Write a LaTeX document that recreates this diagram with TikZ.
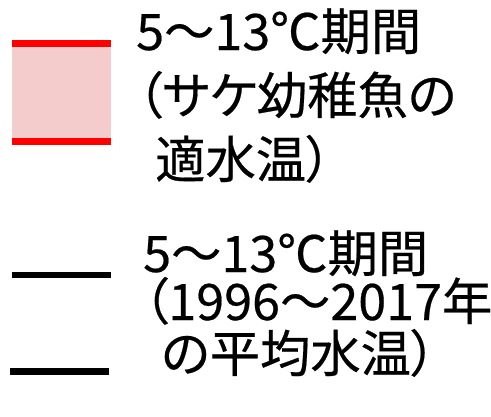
\documentclass[tikz,border=0pt]{standalone}
\usepackage{fontspec}
\setmainfont[RawFeature=+palt,FakeBold=0.4]{Noto Sans CJK JP}
\definecolor{pinkfill}{HTML}{F4CCCC}
\definecolor{legred}{HTML}{FF0000}
\begin{document}
\begin{tikzpicture}[x=1bp,y=-1bp,
  lbl/.style={anchor=base west, inner sep=0pt, font=\fontsize{50.5}{56}\selectfont},
  redline/.style={draw=legred, line width=7bp},
  blackline/.style={draw=black, line width=6.5bp}]
\useasboundingbox (0,0) rectangle (491,416);
% red band legend
\fill[pinkfill] (12,43.5) rectangle (111,141.5);
\draw[redline] (12,43.5) -- (111,43.5);
\draw[redline] (12,141.5) -- (111,141.5);
\node[lbl] (t1) at (136,50) {5～13℃期間};
\node[lbl] (t2) at (137,114) {（サケ幼稚魚の};
\node[lbl] (t3) at (155,178) {適水温）};
% black line legend
\draw[blackline] (12,275) -- (111,275);
\draw[blackline] (10,371.5) -- (109,371.5);
\node[lbl] (b1) at (143,272) {5～13℃期間};
\node[lbl] (b2) at (143,320) {（1996～2017年};
\node[lbl] (b3) at (161,372) {の平均水温）};
\end{tikzpicture}
\end{document}
